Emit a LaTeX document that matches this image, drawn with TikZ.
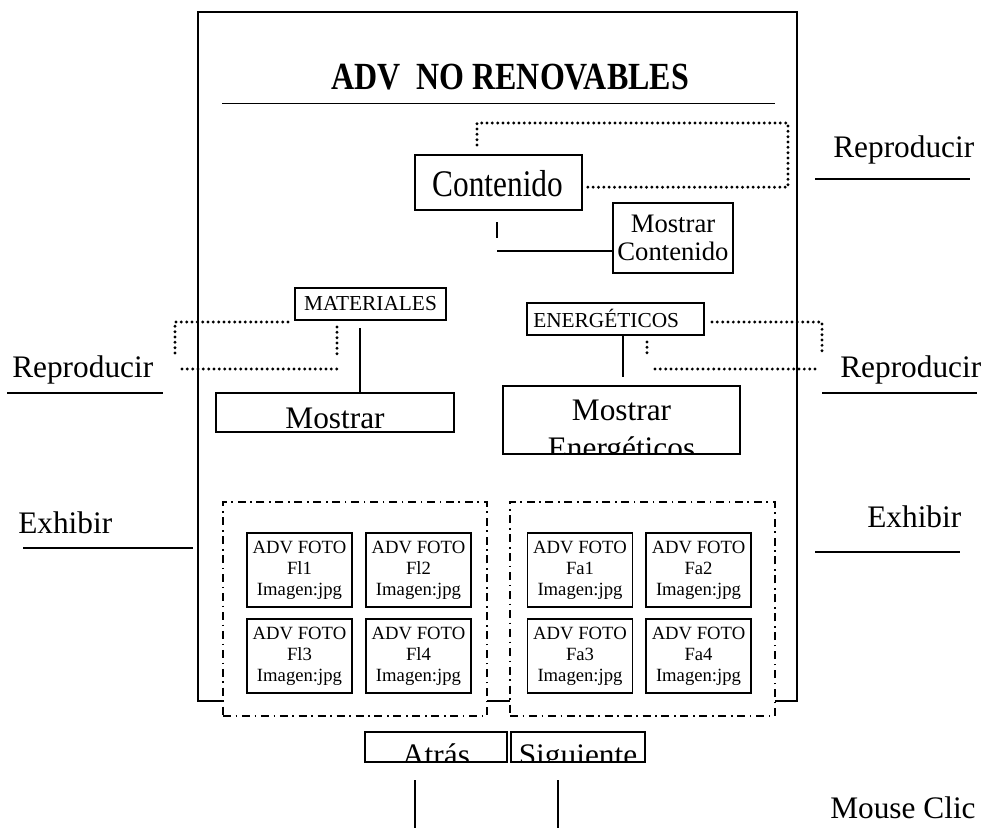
\documentclass[tikz,border=0pt]{standalone}
\usepackage{fontspec}
\setmainfont{Liberation Serif}
\usetikzlibrary{calc}
\begin{document}
\begin{tikzpicture}[x=0.75pt,y=-0.75pt,
  box/.style={draw, line width=1pt, inner sep=0pt},
  frameline/.style={line width=1.3pt},
  link/.style={line width=1pt},
  dotline/.style={line width=2.4pt, dash pattern=on 0pt off 4pt, line cap=round},
  dashdot/.style={line width=1.1pt, dash pattern=on 6pt off 3.5pt on 1.2pt off 3.5pt},
  big/.style={font=\fontsize{23.5}{28}\selectfont},
  mid/.style={font=\fontsize{20}{21}\selectfont},
  small/.style={font=\fontsize{16}{19}\selectfont},
  photo/.style={box, minimum width=78.75pt, minimum height=55.5pt, align=center,
                font=\fontsize{14}{15.75}\selectfont},
  clickbox/.style={box, minimum height=22.5pt}]
\useasboundingbox (0,0) rectangle (992,836);

% outer screen frame and title
\node[box, line width=1.3pt, minimum width=449.25pt, minimum height=516.75pt] (frame) at (497.5,356.5) {};
\node[anchor=base, inner sep=0pt, font=\bfseries\fontsize{24}{28}\selectfont] (title) at (510,89)
  {\scalebox{1}[1.2]{ADV\ \ NO RENOVABLES}};
\coordinate (r1) at (222,103.5);
\coordinate (r2) at (775,103.5);
\draw[frameline] (r1) -- (r2);

% contents block
\node[box, minimum width=125.25pt, minimum height=41.25pt] (cont) at (498.5,182.5) {};
\node[big, anchor=base, inner sep=0pt] (conttext) at (497.5,196) {\scalebox{1}[1.2]{Contenido}};
\node[box, mid, align=center, minimum width=90pt, minimum height=52.5pt] (mcont) at (673,238) {Mostrar\\Contenido};
\coordinate (c1) at (477,145);
\coordinate (c3) at (788,123);
\draw[dotline] (c1) |- (c3) |- ([yshift=-3.5]cont.east);
\coordinate (t1) at (497,222);
\coordinate (t2) at (497,238);
\coordinate (h1) at (497,251);
\draw[link] (t1) -- (t2);
\draw[link] (h1) -- (mcont.west |- h1);

% materials block
\node[box, small, minimum width=113.25pt, minimum height=24pt] (mat) at (370.5,304) {MATERIALES};
\node[box, minimum width=178.5pt, minimum height=29.25pt] (mmat) at (335,412.5) {};
\node[big, anchor=base] (mmattext) at (335,428) {Mostrar};
\coordinate (m1) at (360,328);
\draw[link] (m1) -- (m1 |- mmat.north);
\coordinate (d1) at (288,322);
\coordinate (d2) at (175,322);
\coordinate (d3) at (175,357);
\coordinate (d4) at (182,369);
\coordinate (d5) at (337,369);
\coordinate (d6) at (337,327);
\coordinate (d7) at (337,356);
\draw[dotline] (d1) -- (d2) -- (d3);
\draw[dotline] (d4) -- (d5);
\draw[dotline] (d6) -- (d7);

% energy block
\node[box, minimum width=132.75pt, minimum height=24pt] (ener) at (615.5,319) {};
\node[small, anchor=base west, inner sep=0pt] (enertext) at (533,327) {ENERGÉTICOS};
\node[box, minimum width=177.75pt, minimum height=51pt] (mener) at (621.5,420) {};
\begin{scope}
  \clip (mener.south west) rectangle (mener.north east);
  \node[big, anchor=base] (mener1) at (621.5,420) {Mostrar};
  \node[big, anchor=base] (mener2) at (621.5,458) {Energéticos};
\end{scope}
\coordinate (e1) at (623,377);
\draw[link] (ener.south -| e1) -- (e1);
\coordinate (f1) at (712,322);
\coordinate (f2) at (822,322);
\coordinate (f3) at (822,353);
\coordinate (f4) at (655,369);
\coordinate (f5) at (820,369);
\coordinate (f6) at (647,342);
\coordinate (f7) at (647,357);
\draw[dotline] (f1) -- (f2) -- (f3);
\draw[dotline] (f4) -- (f5);
\draw[dotline] (f6) -- (f7);

% side labels
\node[big, anchor=base west, inner sep=0pt] (repT) at (833,157) {Reproducir};
\coordinate (u1) at (815,179); \coordinate (u2) at (970,179);
\draw[link] (u1) -- (u2);
\node[big, anchor=base west, inner sep=0pt] (repL) at (12,377) {Reproducir};
\coordinate (u3) at (7,393); \coordinate (u4) at (163,393);
\draw[link] (u3) -- (u4);
\node[big, anchor=base west, inner sep=0pt] (repR) at (840,377) {Reproducir};
\coordinate (u5) at (822,393); \coordinate (u6) at (977,393);
\draw[link] (u5) -- (u6);
\node[big, anchor=base west, inner sep=0pt] (exL) at (18,533) {Exhibir};
\coordinate (u7) at (23,548); \coordinate (u8) at (193,548);
\draw[link] (u7) -- (u8);
\node[big, anchor=base west, inner sep=0pt] (exR) at (867,527) {Exhibir};
\coordinate (u9) at (815,552); \coordinate (u10) at (960,552);
\draw[link] (u9) -- (u10);
\node[big, anchor=base west, inner sep=0pt] (mouse) at (830,818) {Mouse Clic};

% photo galleries
\node[dashdot, draw, fill=white, minimum width=198pt, minimum height=160.5pt, inner sep=0pt] (galL) at (355,609) {};
\node[dashdot, draw, fill=white, minimum width=198.75pt, minimum height=160.5pt, inner sep=0pt] (galR) at (642.5,609) {};
\node[photo] (fl1) at (299.5,570) {ADV FOTO\\Fl1\\Imagen:jpg};
\node[photo] (fl2) at (418.5,570) {ADV FOTO\\Fl2\\Imagen:jpg};
\node[photo] (fl3) at (299.5,656) {ADV FOTO\\Fl3\\Imagen:jpg};
\node[photo] (fl4) at (418.5,656) {ADV FOTO\\Fl4\\Imagen:jpg};
\node[photo] (fa1) at (580,570) {ADV FOTO\\Fa1\\Imagen:jpg};
\node[photo] (fa2) at (698.5,570) {ADV FOTO\\Fa2\\Imagen:jpg};
\node[photo] (fa3) at (580,656) {ADV FOTO\\Fa3\\Imagen:jpg};
\node[photo] (fa4) at (698.5,656) {ADV FOTO\\Fa4\\Imagen:jpg};

% navigation buttons
\node[clickbox, minimum width=106.5pt] (atras) at (436,747) {};
\node[clickbox, minimum width=100.5pt] (sig) at (578,747) {};
\begin{scope}
  \clip (atras.south west) rectangle (atras.north east);
  \node[big, anchor=base] (atrastext) at (436,765) {Atrás};
\end{scope}
\begin{scope}
  \clip (sig.south west) rectangle (sig.north east);
  \node[big, anchor=base] (sigtext) at (578,765) {Siguiente};
\end{scope}
\coordinate (k1) at (415,780); \coordinate (k2) at (415,828);
\coordinate (k3) at (558,780); \coordinate (k4) at (558,828);
\draw[link] (k1) -- (k2);
\draw[link] (k3) -- (k4);
\end{tikzpicture}
\end{document}
